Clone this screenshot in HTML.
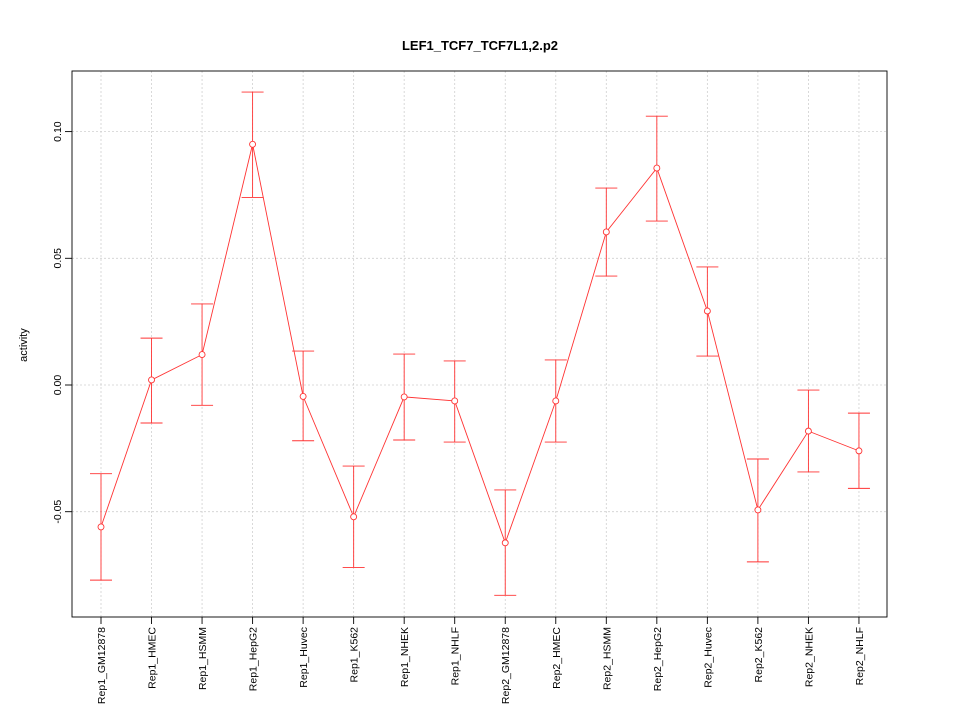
<!DOCTYPE html>
<html><head><meta charset="utf-8"><style>body{margin:0;background:#fff}svg{display:block;font-family:"Liberation Sans",sans-serif}</style></head>
<body>
<svg id="chart" width="960" height="720" xmlns="http://www.w3.org/2000/svg">
<rect width="960" height="720" fill="#fff"/>
<text x="480" y="50" text-anchor="middle" font-size="13" font-weight="bold">LEF1_TCF7_TCF7L1,2.p2</text>
<text transform="translate(27,345) rotate(-90)" text-anchor="middle" font-size="11">activity</text>
<g id="grid"></g><g id="axes"></g><g id="marks"></g>
<rect x="72" y="71" width="815" height="546" fill="none" stroke="#000" stroke-width="0.9"/>
</svg>
<script>
const categories=["Rep1_GM12878","Rep1_HMEC","Rep1_HSMM","Rep1_HepG2","Rep1_Huvec","Rep1_K562","Rep1_NHEK","Rep1_NHLF","Rep2_GM12878","Rep2_HMEC","Rep2_HSMM","Rep2_HepG2","Rep2_Huvec","Rep2_K562","Rep2_NHEK","Rep2_NHLF"];
const values=[-0.056,0.002,0.012,0.095,-0.0045,-0.052,-0.0047,-0.0063,-0.0623,-0.0063,0.0604,0.0856,0.0292,-0.0493,-0.0182,-0.026];
const upper=[-0.035,0.0185,0.032,0.1156,0.0134,-0.032,0.0122,0.0095,-0.0414,0.0099,0.0777,0.1061,0.0466,-0.0292,-0.002,-0.0111];
const lower=[-0.077,-0.015,-0.008,0.074,-0.022,-0.072,-0.0217,-0.0225,-0.083,-0.0225,0.043,0.0647,0.0114,-0.0698,-0.0343,-0.0408];
const yTicks=[-0.05,0,0.05,0.10];
const yTickLabels=["-0.05","0.00","0.05","0.10"];
const NS="http://www.w3.org/2000/svg";
const xS=i=>101+i*50.53;
const yS=v=>385-v*2534;
function mk(tag,attrs,parent){const e=document.createElementNS(NS,tag);for(const k in attrs)e.setAttribute(k,attrs[k]);document.getElementById(parent).appendChild(e);return e;}
categories.forEach((c,i)=>{
 const g=mk('line',{x1:xS(i),x2:xS(i),y1:71,y2:617,stroke:'#d0d0d0','stroke-dasharray':'2,2','stroke-width':0.8},'grid');
 
 
 const t=mk('line',{x1:xS(i),x2:xS(i),y1:617,y2:624,stroke:'#000','stroke-width':0.9},'axes');
 
 
 const l=mk('text',{transform:`translate(${xS(i)+4},627) rotate(-90)`,'text-anchor':'end','font-size':'10.5'},'axes');
 l.textContent=c;
 
 
});
yTicks.forEach((v,i)=>{
 const g=mk('line',{x1:72,x2:887,y1:yS(v),y2:yS(v),stroke:'#d0d0d0','stroke-dasharray':'2,2','stroke-width':0.8},'grid');
 
 
 const t=mk('line',{x1:65,x2:72,y1:yS(v),y2:yS(v),stroke:'#000','stroke-width':0.9},'axes');
 
 
 const l=mk('text',{transform:`translate(61,${yS(v)}) rotate(-90)`,'text-anchor':'middle','font-size':'10.5'},'axes');
 l.textContent=yTickLabels[i];
 
 
});
const pl=mk('polyline',{points:values.map((v,i)=>xS(i)+','+yS(v)).join(' '),fill:'none',stroke:'#f33','stroke-width':0.9},'marks');


values.forEach((v,i)=>{
 const x=xS(i);
 const eb=mk('line',{x1:x,x2:x,y1:yS(upper[i]),y2:yS(lower[i]),stroke:'#f33','stroke-width':0.9},'marks');
 
 
 [upper[i],lower[i]].forEach(b=>{
  const cap=mk('line',{x1:x-11,x2:x+11,y1:yS(b),y2:yS(b),stroke:'#f33','stroke-width':0.9},'marks');
  
  
 });
 const p=mk('circle',{cx:x,cy:yS(v),r:3,fill:'#fff',stroke:'#f33','stroke-width':0.9},'marks');
 
 
});
</script>
</body></html>
